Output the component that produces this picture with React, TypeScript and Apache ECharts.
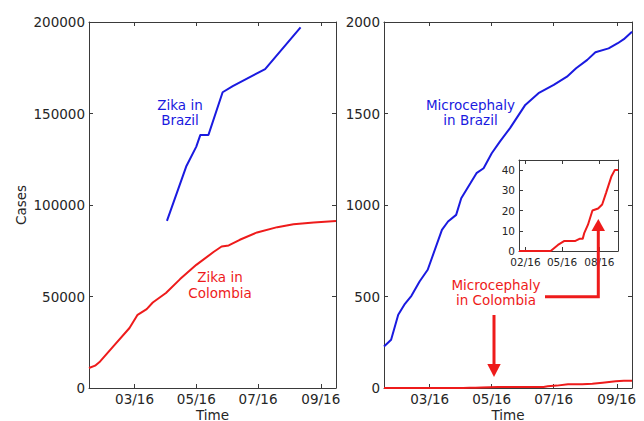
import React, { useEffect, useRef } from 'react';
import * as echarts from 'echarts';

// ---- data ----
const zikaBrazilDates = ['2016-04-02', '2016-04-21', '2016-05-01', '2016-05-05', '2016-05-13', '2016-05-27', '2016-06-06', '2016-07-08', '2016-08-12'];
const zikaBrazilCases = [91300, 121000, 131900, 138300, 138300, 161600, 165000, 174300, 197100];

const zikaColombiaDates = ['2016-01-16', '2016-01-22', '2016-01-27', '2016-02-09', '2016-02-25', '2016-03-04', '2016-03-13', '2016-03-19', '2016-04-01', '2016-04-15', '2016-05-01', '2016-05-18', '2016-05-26', '2016-06-02', '2016-06-13', '2016-06-30', '2016-07-20', '2016-08-05', '2016-08-25', '2016-09-16'];
const zikaColombiaCases = [10900, 12200, 14500, 22700, 32800, 40000, 43100, 46700, 51900, 59500, 67300, 74300, 77300, 77900, 81000, 85000, 87900, 89500, 90400, 91200];

const microBrazilDates = ['2016-01-16', '2016-01-23', '2016-01-30', '2016-02-05', '2016-02-12', '2016-02-20', '2016-02-28', '2016-03-13', '2016-03-19', '2016-03-27', '2016-04-01', '2016-04-10', '2016-04-16', '2016-04-23', '2016-05-01', '2016-05-09', '2016-05-19', '2016-06-03', '2016-06-16', '2016-07-01', '2016-07-14', '2016-07-23', '2016-08-03', '2016-08-11', '2016-08-24', '2016-09-02', '2016-09-08', '2016-09-16'];
const microBrazilCases = [227, 264, 400, 455, 504, 582, 646, 864, 910, 946, 1037, 1119, 1174, 1201, 1283, 1346, 1420, 1547, 1611, 1656, 1701, 1747, 1793, 1835, 1856, 1884, 1906, 1947];

const microColombiaDates = ['2016-01-16', '2016-04-03', '2016-04-09', '2016-04-15', '2016-04-21', '2016-04-29', '2016-05-07', '2016-06-03', '2016-06-13', '2016-06-21', '2016-06-25', '2016-07-04', '2016-07-15', '2016-07-29', '2016-08-08', '2016-08-18', '2016-08-31', '2016-09-08', '2016-09-14', '2016-09-16'];
const microColombiaCases = [0, 0, 1, 2, 3, 4, 5, 5, 6, 6, 9, 13, 20, 21, 23, 29, 37, 40, 40, 40];

const dateStart = '2016-01-16';
const dateEnd = '2016-09-16';
const mainTickDates = ['2016-03-01', '2016-05-01', '2016-07-01', '2016-09-01'];
const insetTickDates = ['2016-02-01', '2016-05-01', '2016-08-01'];
const zikaTicks = [0, 50000, 100000, 150000, 200000];
const microTicks = [0, 500, 1000, 1500, 2000];
const insetTicks = [0, 10, 20, 30, 40];

// ---- helpers ----
const FONT = '"DejaVu Sans", sans-serif';
const AX = '#3a3a3a';
const LABEL = '#262626';
const BLUE = '#1a1ae0';
const RED = '#ee1b1b';

function ts(s: string): number {
  const [y, m, d] = s.split('-').map(Number);
  return new Date(y, m - 1, d).getTime();
}
function pairs(dates: string[], vals: number[]) {
  return dates.map((d, i) => [ts(d), vals[i]]);
}
function fmtDate(v: number): string {
  const d = new Date(v);
  const mm = String(d.getMonth() + 1).padStart(2, '0');
  const yy = String(d.getFullYear() % 100).padStart(2, '0');
  return mm + '/' + yy;
}

function xAxesFor(gridIndex: number, tickDates: string[], fontSize: number, name: string) {
  const tv = tickDates.map(ts);
  const base: any = {
    type: 'value',
    gridIndex,
    min: ts(dateStart),
    max: ts(dateEnd),
    scale: true,
    splitLine: { show: false },
    minorTick: { show: false },
    axisLine: { show: true, onZero: false, lineStyle: { color: AX, width: 1 } },
    axisTick: { show: true, inside: true, length: 4, customValues: tv, lineStyle: { color: AX, width: 1 } },
  };
  return [
    {
      ...base,
      position: 'bottom',
      axisLabel: {
        show: true,
        customValues: tv,
        formatter: (v: number) => fmtDate(v),
        color: LABEL,
        fontSize,
        lineHeight: Math.round(fontSize + 0.5),
        fontFamily: FONT,
        margin: fontSize > 12 ? 4 : 5,
        hideOverlap: false,
      },
      name,
      nameLocation: 'middle',
      nameGap: 20,
      nameMoveOverlap: false,
      nameTextStyle: { color: LABEL, fontSize: 13.5, lineHeight: 13, fontFamily: FONT },
    },
    { ...base, position: 'top', axisLabel: { show: false } },
  ];
}

function yAxesFor(gridIndex: number, ticks: number[], max: number, fontSize: number, name: string) {
  const base: any = {
    type: 'value',
    gridIndex,
    min: 0,
    max,
    splitLine: { show: false },
    minorTick: { show: false },
    axisLine: { show: true, onZero: false, lineStyle: { color: AX, width: 1 } },
    axisTick: { show: true, inside: true, length: 4, customValues: ticks, lineStyle: { color: AX, width: 1 } },
  };
  return [
    {
      ...base,
      position: 'left',
      axisLabel: {
        show: true,
        customValues: ticks,
        formatter: (v: number) => String(v),
        color: LABEL,
        fontSize,
        fontFamily: FONT,
        margin: 4,
        hideOverlap: false,
      },
      name,
      nameLocation: 'middle',
      nameGap: 61,
      nameMoveOverlap: false,
      nameTextStyle: { color: LABEL, fontSize: 13.5, fontFamily: FONT },
    },
    { ...base, position: 'right', axisLabel: { show: false } },
  ];
}

function lineSeries(data: number[][], color: string, axisIndex: number, z = 3) {
  return {
    type: 'line',
    data,
    xAxisIndex: axisIndex,
    yAxisIndex: axisIndex,
    showSymbol: false,
    symbol: 'none',
    smooth: false,
    lineStyle: { color, width: 2 },
    itemStyle: { color },
    z,
  };
}

function label(text: string, x: number, y: number, color: string) {
  return {
    type: 'text',
    x,
    y,
    z: 10,
    style: {
      text,
      fill: color,
      font: '13.5px "DejaVu Sans", sans-serif',
      align: 'center',
      verticalAlign: 'middle',
      lineHeight: 15.5,
    },
  };
}

export default function App() {
  const ref = useRef<HTMLDivElement>(null);

  useEffect(() => {
    if (!ref.current) return;
    const chart = echarts.init(ref.current, undefined, { renderer: 'svg' });

    const option: any = {
      animation: false,
      backgroundColor: '#ffffff',
      grid: [
        { left: 89, top: 22, right: 308, bottom: 33, containLabel: false, outerBoundsMode: 'none' },
        { left: 384, top: 22, right: 12, bottom: 33, containLabel: false, outerBoundsMode: 'none' },
        { left: 519, top: 160, right: 26, bottom: 170, containLabel: false, outerBoundsMode: 'none', show: true, backgroundColor: '#ffffff', borderWidth: 0, z: 5 },
      ],
      xAxis: [
        ...xAxesFor(0, mainTickDates, 13.5, 'Time'),
        ...xAxesFor(1, mainTickDates, 13.5, 'Time'),
        ...xAxesFor(2, insetTickDates, 10.5, '').map((a: any) => ({ ...a, z: 6 })),
      ],
      yAxis: [
        ...yAxesFor(0, zikaTicks, 200000, 13.5, 'Cases'),
        ...yAxesFor(1, microTicks, 2000, 13.5, ''),
        ...yAxesFor(2, insetTicks, 45, 10.5, '').map((a: any) => ({ ...a, z: 6 })),
      ],
      series: [
        lineSeries(pairs(zikaBrazilDates, zikaBrazilCases), BLUE, 0),
        lineSeries(pairs(zikaColombiaDates, zikaColombiaCases), RED, 0),
        lineSeries(pairs(microBrazilDates, microBrazilCases), BLUE, 2),
        lineSeries(pairs(microColombiaDates, microColombiaCases), RED, 2),
        lineSeries(pairs(microColombiaDates, microColombiaCases), RED, 4, 7),
      ],
      graphic: [
        label('Zika in\nBrazil', 180, 112.5, BLUE),
        label('Zika in\nColombia', 220, 285, RED),
        label('Microcephaly\nin Brazil', 470.5, 112.5, BLUE),
        label('Microcephaly\nin Colombia', 496, 292.5, RED),
        {
          type: 'polyline',
          z: 10,
          shape: { points: [[545, 296.7], [598.3, 296.7], [598.3, 229]] },
          style: { stroke: RED, lineWidth: 3, fill: 'none' },
        },
        {
          type: 'polygon',
          z: 10,
          shape: { points: [[591.5, 231], [605, 231], [598.3, 219]] },
          style: { fill: RED },
        },
        {
          type: 'line',
          z: 10,
          shape: { x1: 494, y1: 315, x2: 494, y2: 366 },
          style: { stroke: RED, lineWidth: 3 },
        },
        {
          type: 'polygon',
          z: 10,
          shape: { points: [[487.3, 364], [500.7, 364], [494, 377]] },
          style: { fill: RED },
        },
      ],
    };

    chart.setOption(option);
    return () => chart.dispose();
  }, []);

  return (
    <div
      ref={ref}
      style={{ position: 'absolute', left: 0, top: 0, width: 644, height: 421, background: '#fff' }}
    />
  );
}
